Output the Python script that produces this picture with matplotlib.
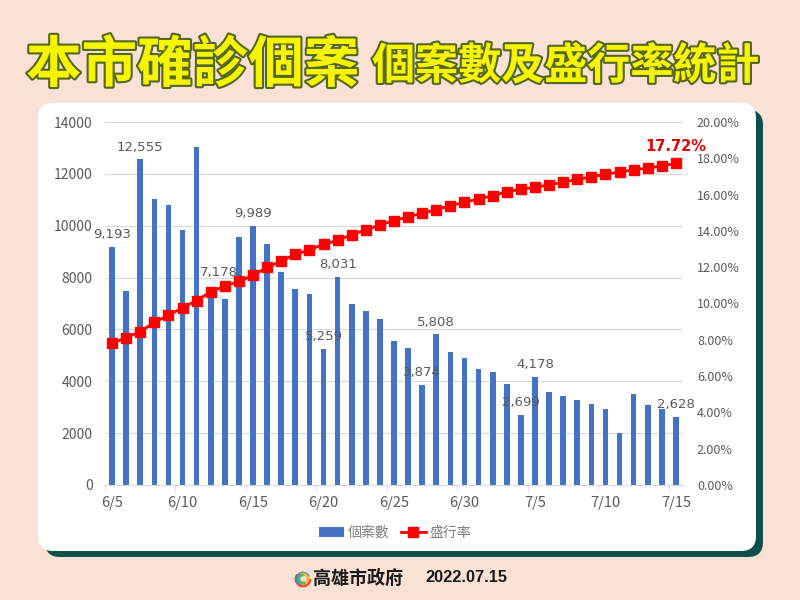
import matplotlib.pyplot as plt
import matplotlib.patheffects as pe
from matplotlib.patches import FancyBboxPatch, Arc
from matplotlib.ticker import FuncFormatter
import numpy as np

plt.rcParams['font.family'] = ['Noto Sans CJK TC', 'DejaVu Sans']

# 日期 (6/5 ~ 7/15)
dates = ['6/5', '6/6', '6/7', '6/8', '6/9', '6/10', '6/11', '6/12', '6/13', '6/14',
         '6/15', '6/16', '6/17', '6/18', '6/19', '6/20', '6/21', '6/22', '6/23', '6/24',
         '6/25', '6/26', '6/27', '6/28', '6/29', '6/30', '7/1', '7/2', '7/3', '7/4',
         '7/5', '7/6', '7/7', '7/8', '7/9', '7/10', '7/11', '7/12', '7/13', '7/14', '7/15']

# 個案數
cases = [9193, 7480, 12555, 11020, 10800, 9830, 13020, 7240, 7178, 9580,
         9989, 9290, 8230, 7550, 7380, 5259, 8031, 6980, 6700, 6390,
         5565, 5295, 3874, 5808, 5120, 4910, 4460, 4370, 3880, 2699,
         4178, 3590, 3430, 3280, 3110, 2920, 2020, 3510, 3070, 2930, 2628]

# 盛行率 (%)
rate = [7.81, 8.12, 8.45, 8.96, 9.35, 9.77, 10.16, 10.65, 10.96, 11.22,
        11.55, 11.99, 12.34, 12.71, 12.95, 13.26, 13.48, 13.79, 14.05, 14.33,
        14.56, 14.78, 14.97, 15.17, 15.39, 15.58, 15.76, 15.94, 16.16, 16.29,
        16.40, 16.53, 16.69, 16.84, 16.97, 17.12, 17.25, 17.36, 17.47, 17.58, 17.72]

# 有標示數值的日期
labeled = ['6/5', '6/7', '6/13', '6/15', '6/20', '6/21', '6/27', '6/28', '7/4', '7/5', '7/15']

fig = plt.figure(figsize=(8, 6), dpi=100)
fig.patch.set_facecolor('#f9e2d5')

# 背景卡片
bg = fig.add_axes([0, 0, 1, 1])
bg.set_xlim(0, 800)
bg.set_ylim(600, 0)
bg.axis('off')
bg.add_patch(FancyBboxPatch((45, 110), 718, 447, boxstyle='round,pad=0,rounding_size=15',
                            facecolor='#0d4f4a', edgecolor='none'))
bg.add_patch(FancyBboxPatch((38, 103), 718, 448, boxstyle='round,pad=0,rounding_size=15',
                            facecolor='white', edgecolor='none'))

# 標題
outline = [pe.withStroke(linewidth=3, foreground='#55661f')]
bg.text(26, 66, '本市確診個案', fontsize=40, fontweight='black', color='#f7f400',
        va='center', ha='left', path_effects=outline)
bg.text(372, 66, '個案數及盛行率統計', fontsize=31, fontweight='black', color='#f7f400',
        va='center', ha='left', path_effects=outline)

# 頁尾 (市府標誌簡化)
for r, c, a in [(7, '#e8473c', 0), (6, '#3a8fd0', 120), (5, '#f2b632', 240), (4, '#5bb55a', 60)]:
    bg.add_patch(Arc((303, 579), r * 2, r * 2, theta1=a, theta2=a + 220, color=c, linewidth=2))
bg.text(313, 578, '高雄市政府', fontsize=13, fontweight='bold', color='#1a1a1a', va='center')
bg.text(425, 578, '2022.07.15', fontsize=11.8, fontweight='bold', color='#1a1a1a', va='center',
        family='Liberation Sans')

# 圖表
ax = fig.add_axes([105 / 800, 1 - 485 / 600, (683 - 105) / 800, (485 - 122) / 600])
ax.set_facecolor('none')
x = np.arange(len(dates))
ax.bar(x, cases, width=0.4, color='#4472c4', label='個案數', zorder=2)
ax.set_xlim(-0.5, len(dates) - 0.5)
ax.set_ylim(0, 14000)
ax.set_yticks(np.arange(0, 14001, 2000))
ax.grid(axis='y', color='#d9d9d9', linewidth=0.8, zorder=0)
ax.set_xticks(x[::5])
ax.set_xticklabels(dates[::5])
ax.set_xticks(np.arange(-0.5, len(dates), 5), minor=True)
ax.tick_params(axis='x', which='major', length=0, pad=8, labelsize=10.5, labelcolor='#595959')
ax.tick_params(axis='x', which='minor', length=4, color='#d9d9d9')
ax.tick_params(axis='y', length=0, pad=9, labelsize=10, labelcolor='#595959')
for s in ['top', 'left', 'right']:
    ax.spines[s].set_visible(False)
ax.spines['bottom'].set_color('#d9d9d9')

ax2 = ax.twinx()
ax2.set_facecolor('none')
ax2.plot(x, rate, color='#ff0000', marker='s', markersize=6.5, linewidth=2, label='盛行率', zorder=3)
ax2.set_ylim(0, 20)
ax2.set_yticks(np.arange(0, 20.1, 2))
ax2.yaxis.set_major_formatter(FuncFormatter(lambda v, p: f'{v:.2f}%'))
ax2.tick_params(axis='y', length=0, pad=10, labelsize=9, labelcolor='#595959')
for s in ['top', 'left', 'right', 'bottom']:
    ax2.spines[s].set_visible(False)
ax2.annotate(f'{rate[-1]:.2f}%', (x[-1], rate[-1]), xytext=(0, 7), textcoords='offset points',
             ha='center', va='bottom', fontsize=10.5, fontweight='bold', color='#e00000',
             family='DejaVu Sans')

# 數值標籤 (畫在折線之上)
for d in labeled:
    i = dates.index(d)
    dx, dy = (-4, 14) if d == '6/13' else (0, 4)
    ax2.annotate(f'{cases[i]:,}', (i, cases[i] / 700), xytext=(dx, dy), textcoords='offset points',
                 ha='center', va='bottom', fontsize=9.5, color='#595959', family='DejaVu Sans',
                 zorder=5)

h1, l1 = ax.get_legend_handles_labels()
h2, l2 = ax2.get_legend_handles_labels()
leg = fig.legend(h1 + h2, l1 + l2, loc='center', bbox_to_anchor=(395 / 800, 1 - 533 / 600),
                 ncol=2, frameon=False, fontsize=10, handlelength=1.8, columnspacing=0.8,
                 handletextpad=0.3)
for t in leg.get_texts():
    t.set_color('#808080')

fig.savefig('out.png', dpi=100, facecolor=fig.get_facecolor())
